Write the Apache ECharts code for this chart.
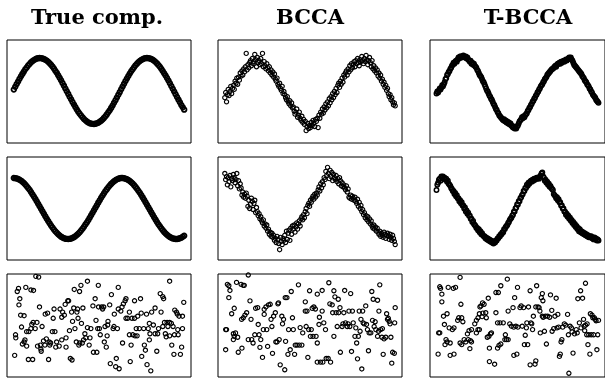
<!DOCTYPE html>
<html><head><meta charset="utf-8">
<script src="https://cdn.jsdelivr.net/npm/echarts@6/dist/echarts.min.js"></script>
<style>html,body{margin:0;padding:0;background:#fff}#c{width:605px;height:378px}</style>
</head><body><div id="c"></div>
<script>
const colTitles = ['True comp.', 'BCCA', 'T-BCCA'];

const trueRow1 = [51.9,54.6,57.2,59.8,62.3,64.8,67.1,69.3,71.5,73.4,
75.2,76.8,78.3,79.5,80.5,81.3,82.0,82.3,82.5,82.4,
82.1,81.6,80.9,80.0,78.8,77.5,75.9,74.2,72.3,70.2,
68.1,65.8,63.4,60.9,58.3,55.7,53.0,50.3,47.7,45.0,
42.4,39.8,37.3,34.9,32.6,30.4,28.4,26.6,24.9,23.4,
22.0,20.9,20.0,19.3,18.8,18.6,18.5,18.7,19.1,19.7,
20.6,21.7,22.9,24.4,26.0,27.8,29.8,31.9,34.1,36.5,
39.0,41.5,44.1,46.8,49.4,52.2,54.9,57.5,60.1,62.6,
65.0,67.4,69.6,71.7,73.6,75.4,77.0,78.4,79.6,80.6,
81.4,82.0,82.4,82.5,82.4,82.1,81.6,80.8,79.8,78.7,
77.3,75.7,74.0,72.1,70.0,67.8,65.5,63.1,60.6,58.0,
55.4,52.7,50.1,47.3,44.7,42.1,39.5,37.0,34.6,32.4];

const trueRow2 = [79.6,79.5,79.2,78.7,78.0,77.1,76.0,74.7,73.3,71.7,
70.0,68.1,66.1,63.9,61.7,59.4,57.1,54.6,52.2,49.7,
47.3,44.9,42.5,40.1,37.8,35.6,33.5,31.5,29.7,28.0,
26.4,25.0,23.8,22.7,21.9,21.2,20.7,20.5,20.4,20.5,
20.9,21.4,22.2,23.1,24.2,25.5,27.0,28.6,30.4,32.3,
34.4,36.5,38.7,41.1,43.4,45.8,48.3,50.7,53.2,55.7,
58.0,60.4,62.6,64.8,66.9,68.8,70.7,72.3,73.9,75.2,
76.4,77.5,78.3,78.9,79.3,79.6,79.6,79.4,79.0,78.4,
77.6,76.7,75.5,74.2,72.7,71.0,69.2,67.3,65.2,63.1,
60.8,58.5,56.1,53.7,51.2,48.8,46.3,43.9,41.5,39.2,
36.9,34.8,32.7,30.8,29.0,27.3,25.8,24.5,23.3,22.4,
21.6,21.0,20.6,20.4,20.4,20.7,21.1,21.7,22.6,23.6];

const trueRow3 = [[2,41],[2.3,38],[1,21],[4,83],[5.5,86],[7,76],[6,70],[8,60],[12,59.5],[9,48.5],[14,87],[15,44],[17.5,44],[12,34],[10,32],[15,30],[13,36],[17,17],[21,51],[23,84],[20,84.5],[22.6,53],[27,53],[25,47],[20,47],[22,17],
[25.7,97.7],[29,97],[30,68],[27.7,30],[31,31],[32,25],[33,49],[31.6,27],[34.7,35],[36.3,31],[38,37],[36.7,61],[39.4,62],[40.6,17],[42,31],[41.3,34],[43,33],[45,44],[46,57],[47,66],[48,44],[49,29],[50,34],
[53,30],[54,66],[56,36],[56,58],[57,63],[59,60],[60,70.5],[61,38],[61,29],[63,74],[64,74],[65,45],[66,18],[68,16.5],[67.5,63],[70,67],[68.6,54],[70.6,85],[71.4,47],[73,34],[73.7,63],[74.5,66],[75,57],[76,31],
[76.8,83],[78.4,89],[79,52],[77,33],[80,33],[80.7,67],[81.5,36],[83,42],[84,38],[86,93],[86,48],[88,31],[89,38],[90,47],[92.4,69],[93,24],[95,76],[96,55],[97,24],[98,47],
[98.7,89],[99,68],[100,47],[101,41],[102.6,68],[103.7,66],[105,68],[105.7,34],[106.5,49],[108,29],[109,40],[110,54],[109.6,50.5],[112,70],[112.7,13],[114,80],[116,47],[117,49],[117.4,61],[119,10],[119.7,18],[121,47],[122,87],[122,66],[123,8],
[125,64],[126.4,68],[127,33],[128,71],[130,74],[131,76],[131,57],[133,57],[135,63],[135,41],[136,15],[137,31],[138,57],[139,41],[141,74],[141,57],[141.6,40],[143,47],[144,40],[144.7,59],
[146.6,47],[148,76],[148.8,62],[149.4,20],[151.7,47],[152.5,31],[153.7,26],[155,61],[155.6,12],[157,47],[158.3,52],[158.3,36],[159,42],[160,6],[161,63],[163,50.5],[165,67],[165,42],[167,25],
[168,42],[169,47],[171,81],[172,63],[174,78],[174,49],[175,76],[176,53],[177,42],[178,39],[179,53],[180,49],[182,93],[182,53],[182,40],[184,52],[184.5,31],[186,49],[187,22],[187.6,41],[188,65],[190,63],[191,61],[191.5,46],[192,41],[193,59],[194.6,22],[196,29],[197,59],[197,47],[198.5,72.5]];

const bccaRow1 = [44,49,40,47,52,46,50,55,48,53,
56,52,60,58,63,57,64,61,68,65,
70,66,72,69,74,87,71,76,73,78,
80,75,82,77,79,86,81,74,83,78,
80,76,82,77,87,74,79,75,72,77,
73,70,74,68,71,66,69,64,67,62,
60,63,57,55,58,53,51,55,48,50,
47,44,42,45,40,38,41,36,39,34,
35,31,28,30,33,25,27,30,24,22,
26,20,23,18,21,12,16,19,14,17,
15,20,17,22,19,16,23,21,24,15,
27,24,30,28,33,29,35,32,38,34,
40,36,43,39,45,42,48,44,50,47,
53,49,56,58,54,60,57,63,59,66,
64,68,70,66,72,69,75,71,77,73,
76,79,74,80,77,82,78,75,81,79,
84,80,77,82,79,85,81,76,80,83,
78,74,80,72,75,70,73,68,71,65,
68,63,66,60,62,57,59,54,56,51,
53,48,45,47,42,44,40,37,39,36];

const bccaRow2 = [84,78,81,73,80,76,82,71,79,77,
83,80,75,78,84,72,77,69,74,70,
63,66,61,64,60,65,62,52,58,50,
54,60,57,49,55,58,46,51,47,43,
45,40,42,38,36,39,33,35,31,34,
28,30,25,27,23,26,22,24,19,21,
17,23,20,16,10,22,18,15,21,19,
24,17,28,20,26,29,19,31,25,33,
30,34,27,32,36,30,35,38,33,40,
42,39,44,41,47,50,45,53,55,52,
58,56,60,62,59,64,61,65,63,68,
71,67,74,70,76,73,80,78,86,82,
90,84,79,87,81,85,77,83,80,78,
82,76,79,74,80,77,72,75,71,73,
70,68,72,66,69,61,60,63,59,62,
60,58,61,57,55,59,52,56,50,53,
47,49,44,46,41,43,39,42,37,40,
35,38,33,31,34,30,32,28,31,27,
25,28,23,26,24,22,27,25,21,24,
26,23,20,25,22,19,24,21,18,15];

const bccaRow3 = [[1,46],[2,46],[3,90],[4.7,88.6],[6,84],[4.7,77],[1,26.5],[8,61.4],[11,66.7],[10,42],[11,39.5],[12.5,42.8],[13.7,91.8],[15,38.6],[10,36.3],[15.7,24],[19,90],[21.5,89],[20,28],[22.7,89],[19.6,56],[21.6,57.5],[23.5,60],[25.5,62.4],[27.4,99],[27.4,36.3],[29.4,73.9],[30.6,56],[31.4,36.3],[33,33],[35,41],[36,66.7],[38.4,67.3],[39,51],[40,41],[41,28.8],[42,36.3],[44,19],[45,46],[46,60.8],[46,65.7],[48,68],[49,46],[50,29.7],[51,70],[53,70.6],[54,56],[55,49],[55.7,23],[57,59],[59,62.4],[59.6,34],[61,34],[62,71],[62.7,72],[64.7,11.8],[63.5,36.3],[66.6,59],[67.4,51.6],[68.6,56],[70,7],[70.6,77],[72.5,77],[71,34.6],[73.7,22],[74.5,46],[76.4,26.5],[77.6,83],[79,57.5],[80,46],[81.5,22],[82.3,31],[84.3,31],[86,89.5],[87,31],[88,48],[90,31],[91,42.8],[94,73],[94,64],[95,49],[96,64],[97,19],[98,46],[99,83.7],[100,39.5],[101,46],[102,66.7],[103,39.5],[104,68],[105.8,66],[106.6,39.5],[108,33],[108,80.4],[108,14.4],[110,51],[110.5,58],[111.7,14.4],[113.7,64],[113.7,84],[114.5,14.4],[115.6,52.6],[117.6,46],[118.4,18],[120.7,18],[121.5,91.5],[122.7,71],[123.5,14.4],[125.4,70],[126,62.4],[127.4,83.7],[127.4,39.5],[128.6,77.8],[130,62.4],[131.3,49],[132.5,75.5],[133,62.4],[134.5,67.3],[135,24],[137,49],[138,51.6],[139,62.4],[140,84],[141,52.6],[143,49],[144,51.6],[145,64],[146,49],[147,81],[148,24.8],[149,64],[150,52.6],[152,39.5],[153,47.7],[154,33],[155,17.6],[156,39.5],[157,64],[158,44.4],[159,56],[160,7.8],[161,64],[161.6,52.6],[162.7,51.6],[164.6,69],[165.5,51],[166.6,46],[167.8,25.5],[168.6,42.8],[170.5,42.8],[171.7,83],[172.5,55],[173.3,75.5],[174.4,49],[175.6,53.6],[176.4,46],[178.4,74.5],[178.4,39.5],[179.5,44.4],[180,64],[181,89.5],[182,46],[183.5,38.6],[184,47],[185,22],[186,37],[188,38.6],[189,61.4],[190,56],[191,57],[192,54],[193,51.6],[194,38.6],[195,13.4],[196,24],[198,23],[199,67.3],[198.4,52.6]];

const tbccaRow1 = [48,50,49,51,53,52,54,56,55,57,
59,62,63,66,67,69,70,72,73,75,
76,78,77,79,80,79,81,83,82,84,
84,83,84,85,84,83,84,82,83,81,
80,79,80,77,78,76,77,75,74,73,
71,70,68,66,65,64,62,60,59,57,
55,53,51,50,48,46,45,43,42,40,
38,37,35,33,32,30,29,27,26,25,
24,23,22,23,21,22,20,21,19,20,
18,19,17,16,15,16,14,15,14,16,
17,19,21,22,23,25,24,26,25,27,
28,29,31,32,34,35,37,38,40,41,
43,44,46,47,49,50,52,53,55,56,
57,59,60,62,63,64,66,67,68,69,
70,71,72,72,73,74,75,74,76,77,
77,78,77,79,78,79,80,79,80,81,
80,81,82,83,82,83,81,80,78,76,
75,74,73,72,71,70,69,68,67,65,
64,63,61,60,59,57,56,55,53,52,
50,49,47,46,45,44,42,41,40,39];

const tbccaRow2 = [68,73,75,78,79,77,81,80,81,79,
80,78,79,76,77,74,73,72,70,69,
67,67,64,65,62,63,60,60,57,58,
55,56,53,53,50,51,47,48,45,46,
43,43,40,40,37,38,35,34,33,31,
31,29,30,27,28,25,26,24,23,23,
21,22,20,21,19,20,18,19,17,18,
16,18,17,19,19,21,21,23,23,25,
25,27,27,30,30,32,33,34,36,37,
39,40,41,43,44,47,47,50,51,54,
54,57,57,60,61,63,64,67,67,70,
70,73,72,75,74,76,77,76,78,77,
79,78,79,80,79,80,79,81,82,84,
85,81,80,77,78,75,76,73,74,71,
72,70,69,68,64,63,62,60,61,58,
59,56,56,53,53,50,50,47,47,44,
45,42,43,40,41,38,39,36,37,34,
35,32,33,30,31,28,30,27,28,26,
27,25,26,24,25,23,24,22,23,22,
23,21,22,20,22,20,21,19,20,19];

const tbccaRow3 = [[4,87.6],[5,86],[14.4,87],[20.7,86],[23.4,87],[29,96.7],[6.6,80.4],[6.6,73],[8.6,59],[13,61.4],[9.75,51],[15.6,47.7],[21.5,47.7],[19.5,46],[2.7,42.8],[4,42.8],[11.7,36.3],[13,34],[16.8,33],[10.5,31.4],[2,22.2],[16.8,21],[21.5,22.2],[26,55],[27.3,57.5],[31,57.5],[32.4,53.6],[30,70.6],[29,33],[31,31.4],[34,36.3],[36,34],[39,36.3],[41.7,35.3],[43,34],[38,41.8],[40,45],[43,46],[41,27.5],[49,42.8],[51,46],[52.7,46],[47,51.6],[49,55],[51,57.5],[52.7,61.4],[54.6,69],[53.4,68],[56.6,72],[58.5,70.6],[56,58.6],[57,62],[60.5,62.4],[61.2,57.5],[63.6,76.5],[62.4,38.6],[64.4,39.5],[66.3,41.8],[67.5,42.8],[65,28],[65,15],[71.4,12.4],[73,62.4],[73,82],[76,82],[75,52.6],[78,52.6],[79,88.6],[75,28],[76.8,30.7],[79,32],[82,52.6],[84,36.3],[86,36.3],[88,36.3],[87,95],[84.6,41],[88,64],[90,51.6],[92,49.3],[94,67.3],[95,21],[96,77],[95,48.4],[97.5,49.3],[98.7,22.2],[99.5,87],[100,48.4],[102.6,67.3],[104,69],[105.3,49.3],[107,67.3],[108,31.4],[109,40.5],[110.4,47.7],[111,52.6],[112,31.4],[113,68],[115,83.7],[115,11.8],[116,52.6],[117,51.6],[118,46],[119,59],[121,12.4],[122,15.7],[123,88.6],[122,68],[124.8,68],[126,67.3],[127,64],[127.5,42.8],[128.7,77],[130,81],[130.7,74],[130,59],[131,58],[133.8,59],[132.6,44.4],[135,32],[136.5,59],[139,58],[140,79.7],[141.6,64.7],[142,44.4],[144,47],[145.5,59],[147,76.5],[148,47.7],[149,60.8],[150,48.4],[151,20],[152,22.2],[153,34],[154,36.3],[155,48.4],[157,51.6],[158.7,50.3],[161,60.8],[162,41],[162.6,3.6],[164,49.3],[165.7,47.7],[166.5,43.8],[167.7,23.2],[169.6,41.8],[171.6,46],[172.8,42.8],[173.6,76],[175.5,52.6],[177,83.7],[177.5,47.7],[179.4,76.5],[180.6,56],[181.4,49.3],[182,45],[183,91],[183,50.3],[184.5,41],[185,51.6],[186,31.4],[187,41],[188.4,22.2],[189,61.4],[190,41],[191,60],[192,57.5],[193,41],[194,57.5],[195,56],[196,54.6],[197,26.5],[198,41],[199,55]];

const panels = [
  [trueRow1, bccaRow1, tbccaRow1],
  [trueRow2, bccaRow2, tbccaRow2],
  [trueRow3, bccaRow3, tbccaRow3]
];

const colLeft = [7, 218, 430];
const rowTop = [40, 157, 274];
const boxW = 184, boxH = 103;
const titleCenter = [97, 310, 528];

function markStyle(r, c) {
  if (r < 2 && c === 0) return {size: 4.6, width: 1.8};
  if (r < 2 && c === 2) return {size: 4.4, width: 1.5};
  return {size: 4.2, width: 1.15};
}

const grids = [], xAxes = [], yAxes = [], series = [];
let k = 0;
for (let r = 0; r < 3; r++) {
  for (let c = 0; c < 3; c++) {
    const arr = panels[r][c];
    const isPairs = Array.isArray(arr[0]);
    const data = isPairs ? arr : arr.map((v, i) => [i, v]);
    const D = isPairs ? 199 : arr.length - 1;
    const ms = markStyle(r, c);
    grids.push({left: colLeft[c], top: rowTop[r], width: boxW, height: boxH,
      show: true, borderColor: '#000', borderWidth: 1, backgroundColor: 'transparent', containLabel: false});
    xAxes.push({type: 'value', gridIndex: k, min: -0.04 * D, max: D * 1.04, show: false});
    yAxes.push({type: 'value', gridIndex: k, min: 0, max: 100, show: false});
    series.push({type: 'scatter', xAxisIndex: k, yAxisIndex: k, data: data,
      symbol: 'circle', symbolSize: ms.size, silent: true,
      itemStyle: {color: 'rgba(0,0,0,0)', borderColor: '#000', borderWidth: ms.width, opacity: 1}});
    k++;
  }
}

const chart = echarts.init(document.getElementById('c'), null, {renderer: 'canvas'});
chart.setOption({
  animation: false,
  backgroundColor: '#fff',
  title: colTitles.map((t, i) => ({
    text: t, left: titleCenter[i] - 5, top: 3, textAlign: 'center', padding: 5,
    textStyle: {fontFamily: 'DejaVu Serif', fontWeight: 'bold', fontSize: 21, color: '#000'}
  })),
  grid: grids, xAxis: xAxes, yAxis: yAxes, series: series
});
</script></body></html>
